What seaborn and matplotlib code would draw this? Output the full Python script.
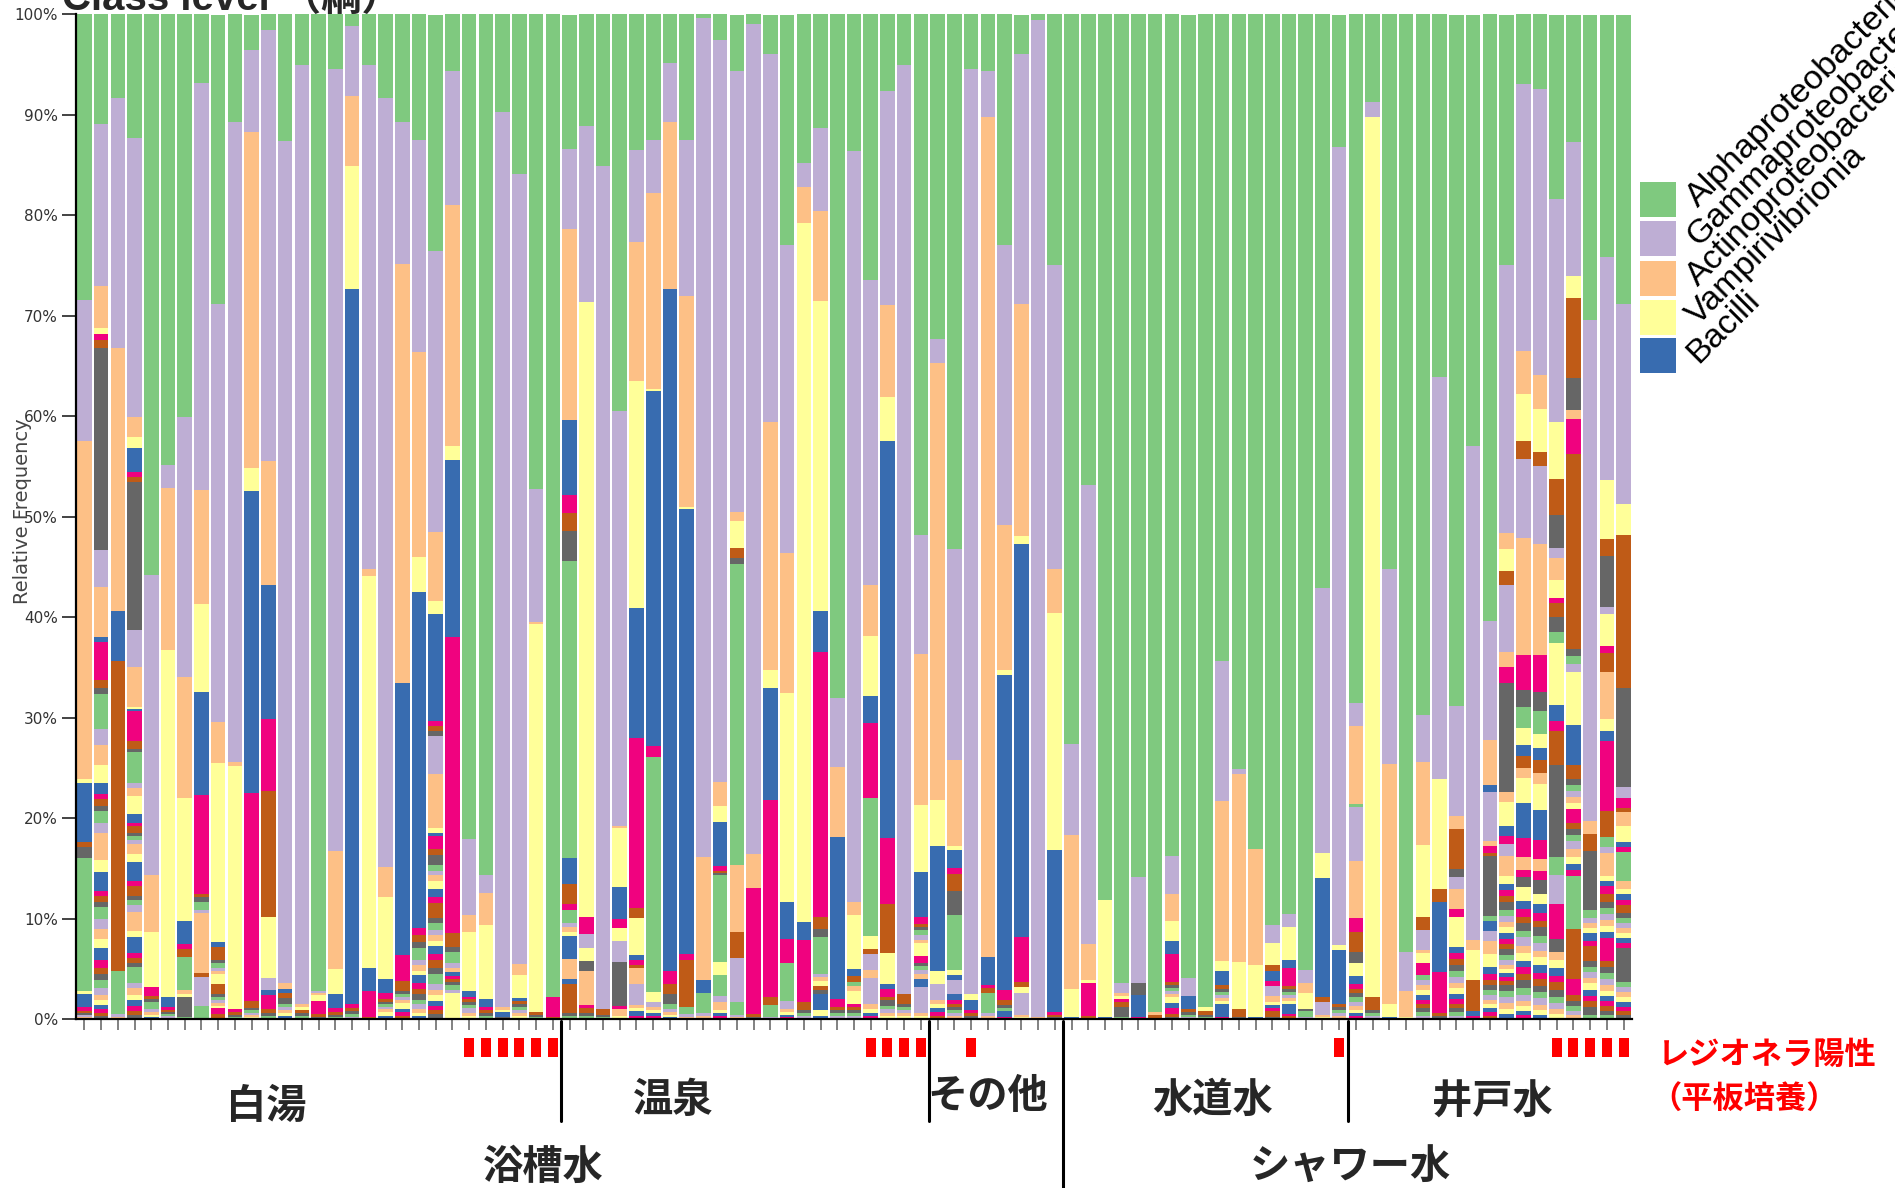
import numpy as np
import matplotlib
matplotlib.use("Agg")
import matplotlib.pyplot as plt
from matplotlib.patches import Rectangle
from matplotlib.lines import Line2D
from matplotlib import transforms
import seaborn as sns

# ---------------------------------------------------------------------------
# Data: relative abundance (%) of bacterial classes per sample.
# Each row is one sample, listed from the top of the bar downward.
# Entry k is drawn with Accent colour k % 8; the first five are the named
# classes, later entries are minor classes.
# ---------------------------------------------------------------------------
class_names = ["Alphaproteobacteria", "Gammaproteobacteria",
               "Actinoproteobacteria", "Vampirivibrionia", "Bacilli"]

shiroyu = [
    [28.4, 14.1, 33.6, 0.4, 5.9, 0, 0.5, 1.1, 13.2, 0, 0, 0.3, 1.3, 0.4, 0.2, 0.2, 0, 0.2, 0.2],
    [10.7, 15.9, 4.1, 0.6, 0, 0.6, 0.8, 19.8, 0, 3.6, 4.9, 0, 0.5, 3.8, 0.7, 0.6, 3.5, 1.5, 2.0, 1.8,
     1.0, 0.5, 0.7, 0.5, 1.2, 1.0, 2.6, 1.2, 1.8, 0.5, 0.6, 0.5, 1.2, 1.0, 1.0, 0.8, 1.2, 0.8, 0.6,
     0.6, 0.8, 0.6, 0.5, 0.5, 0.4, 0.4, 0.3, 0.3],
    [8.3, 24.9, 26.2, 0, 5.0, 0, 30.8, 0, 4.3, 0.3, 0.2],
    [12.1, 27.4, 2.0, 1.1, 2.4, 0.4, 0.5, 14.6, 0, 3.6, 3.9, 0.2, 0.2, 3.0, 0.8, 0.3, 3.0, 0.5, 0.8,
     1.8, 0.8, 0.3, 0.7, 0.3, 0.4, 0.4, 1.0, 0.8, 1.8, 0.5, 1.0, 0.4, 0.5, 0.7, 1.9, 0.5, 1.6, 0.5,
     0.5, 0.4, 1.6, 0.5, 0.6, 0.5, 0.6, 0.5, 0.4, 0.4],
    [55.6, 29.8, 5.7, 5.4, 0, 0.9, 0.3, 0.3, 0.7, 0.3, 0.3, 0.2, 0.2],
    [44.8, 2.3, 16.2, 34.5, 1.0, 0.3, 0.2, 0.2, 0.2, 0.3],
    [39.7, 25.6, 11.9, 12.1, 2.3, 0.5, 0.8, 0, 3.2, 0, 0.4, 0.3, 0, 0, 0, 2.0, 0.2],
    [6.8, 40.3, 11.2, 8.7, 10.2, 9.8, 0.3, 0.5, 0.8, 0.3, 5.9, 0, 0, 0, 0.4, 0, 0, 2.9, 0, 0, 0, 0,
     0, 0, 1.3],
    [28.8, 41.7, 4.1, 17.8, 0.5, 0, 1.3, 0.3, 0.5, 0.3, 0.3, 1.0, 0, 0, 1.0, 0.3, 0.3, 0.3, 0.3, 0.2,
     0, 0.6, 0.5],
    [10.7, 63.7, 0.4, 24.2, 0, 0.3, 0.3, 0.2, 0.2],
    [3.5, 8.2, 33.4, 2.3, 30.1, 20.7, 0.7, 0.2, 0.3, 0.2, 0.2, 0.2],
    [1.5, 42.8, 12.3, 0, 13.3, 7.2, 12.5, 0, 0, 0, 0, 6.0, 0, 0, 0, 0, 0, 1.2, 0, 0, 0.5, 1.4, 0.4,
     0.3, 0.3],
    [12.5, 83.2, 0.6, 0, 0.4, 0, 0.5, 0.6, 0.3, 0.3, 0.3, 0.3, 0.3],
    [5.0, 93.5, 0.3, 0.3, 0, 0, 0.3, 0.3, 0.3],
    [97.2, 0.2, 0.2, 0.6, 0, 1.3, 0.3, 0.2],
    [5.4, 77.8, 11.7, 2.5, 1.4, 0.4, 0.3, 0.2, 0.2],
    [1.1, 7.0, 7.0, 12.2, 71.2, 0.4, 0.3, 0.3, 0.3, 0.2],
    [5.0, 50.2, 0.7, 39.0, 2.3, 2.6, 0.2],
    [8.3, 76.1, 3.0, 8.1, 1.4, 0.6, 0.3, 0.2, 0.3, 0.2, 0.3, 0.4, 0.3],
    [10.7, 14.2, 41.9, 0, 27.1, 2.6, 1.0, 0.3, 0.3, 0.3, 0.3, 0.6, 0.3, 0.4, 0.3],
    [12.5, 21.1, 20.5, 3.4, 33.5, 0.7, 0.7, 0.6, 1.2, 0.5, 0.6, 0.4, 0.8, 0.6, 0.5, 0.6, 0.4, 0.5,
     0.4, 0.3, 0.3],
    [23.5, 28.0, 6.8, 1.3, 10.7, 0.5, 0.5, 0.5, 0, 3.7, 5.4, 0.5, 0.3, 1.3, 0.6, 1.0, 0.6, 0.4, 0.6,
     0.8, 0.8, 0.6, 1.5, 0.5, 0.6, 0.5, 0.6, 0.5, 0.8, 0.6, 0.8, 0.6, 1.0, 0.6, 0.5, 0.6, 0.5, 0.4,
     0.4, 0.5],
    [5.6, 13.4, 24.0, 1.4, 17.6, 29.5, 1.4, 0.5, 1.1, 0.5, 0.4, 0, 0.4, 0.3, 0.3, 0.3, 0.5, 0.3, 0,
     2.6],
    [82.1, 7.5, 1.7, 5.9, 0.6, 0.2, 0.3, 0.3, 0.3, 0.5, 0.3, 0.3],
    [85.7, 1.8, 3.1, 7.4, 0.8, 0.3, 0.3, 0.3, 0.3],
    [9.7, 89.1, 0.3, 0.2, 0.5, 0, 0, 0.2],
    [15.9, 78.5, 1.1, 2.3, 0.3, 0, 0.3, 0.3, 0.3, 0.3, 0.3, 0.3],
    [47.2, 13.3, 0.2, 38.6, 0, 0, 0.3, 0.2, 0.2],
    [97.8, 0, 0, 0, 0, 2.0, 0.2],
]

onsen = [
    [13.3, 7.9, 18.8, 0, 7.4, 1.8, 1.8, 2.9, 29.3, 0, 0, 0, 2.6, 0, 2.0, 0, 0, 0, 0, 0, 0, 0.5, 0, 0,
     1.3, 0.4, 0.5, 0.4, 2.3, 0, 0, 0, 0, 0, 2.0, 0, 0.4, 0, 2.9, 0.3, 0.3],
    [10.9, 17.3, 0, 60.3, 0, 1.7, 0, 0, 0, 1.3, 0, 1.3, 0, 0, 0, 1.0, 0, 0, 3.3, 0, 0, 0.3, 0.5, 0.3,
     0.3],
    [15.1, 83.9, 0, 0, 0, 0, 0.6, 0.2, 0.2],
    [39.2, 40.9, 0.2, 5.9, 3.1, 0.9, 0, 0, 0, 0, 0, 1.3, 0, 0, 0, 0, 0, 2.1, 0, 0, 0, 0, 0, 4.3, 0,
     0, 0, 0, 0, 0.3, 0, 0, 0, 0, 0.7, 0.3],
    [13.3, 9.0, 13.7, 22.3, 12.7, 16.7, 1.0, 0, 0, 0, 0, 3.6, 0.5, 0.5, 0.3, 0, 0, 0, 1.6, 0, 0, 0,
     0, 0, 0, 2.0, 0.3, 0.3, 0.5, 0.3],
    [12.5, 5.2, 19.5, 0.2, 35.3, 1.1, 0, 0, 23.3, 0, 0, 1.0, 0, 0, 0, 0, 0, 0.5, 0.3, 0.3, 0.3, 0.3],
    [4.8, 5.9, 16.6, 0, 67.9, 1.3, 1.0, 1.0, 0.5, 0.3, 0.3, 0.2, 0.2],
    [12.5, 15.5, 20.9, 0.2, 44.2, 0.6, 4.7, 0, 0.7, 0.3, 0.2],
    [0.3, 83.4, 12.2, 0, 1.3, 0, 0, 0, 2.0, 0.3, 0.3],
    [2.5, 73.3, 2.4, 1.5, 4.4, 0.5, 0.2, 0.2, 8.6, 0, 0, 1.3, 0, 0, 0, 0, 2.0, 0.6, 0.8, 0.3, 0.3,
     0.3],
    [5.6, 43.4, 0.9, 2.6, 0, 0, 1.0, 0.6, 29.6, 0, 6.6, 0, 0, 0, 2.6, 0, 0, 4.3, 0, 0, 0, 0, 0, 0,
     1.3, 0.2, 0.2],
    [0.9, 82.7, 3.4, 0, 0, 12.5, 0.3, 0.2],
    [3.9, 36.5, 24.7, 1.7, 11.2, 19.5, 0.8, 0, 1.2, 0.2],
    [22.9, 30.6, 13.9, 20.8, 3.7, 2.3, 0, 0, 3.8, 0.8, 0.3, 0.3, 0.2, 0.2],
    [14.8, 2.4, 3.6, 69.5, 1.8, 6.2, 0.8, 0.3, 0.3, 0.3],
    [11.3, 8.2, 8.9, 30.8, 4.1, 26.3, 1.2, 0.8, 3.6, 0.3, 0.4, 0.5, 0, 0, 0.4, 0.4, 0, 0, 0, 0, 1.6,
     0, 0, 0, 0, 0, 0, 0.6, 0.3],
    [68.0, 6.9, 7.0, 0, 16.1, 0.8, 0.3, 0.3, 0.3, 0.3],
    [13.6, 74.7, 1.3, 5.3, 0.7, 0, 0.6, 0, 0.4, 0, 0.5, 1.3, 0, 0.3, 0.3, 0.3, 0.3, 0.3],
    [26.1, 30.0, 5.0, 5.9, 2.6, 7.4, 0, 0, 13.5, 0, 0, 1.3, 0, 0, 0.5, 0, 0, 1.6, 0.8, 0, 0, 0, 0, 0,
     0, 2.5, 0.5, 0.4, 0.3, 0.3],
    [7.6, 21.2, 9.2, 4.3, 39.4, 6.6, 4.8, 0, 0, 0, 0, 3.1, 0.5, 0.8, 0.3, 0.6, 0.3, 0.4, 0.3, 0.3],
    [5.0, 92.5, 0, 0, 0, 0, 1.0, 0.3, 0.3, 0.3, 0.3, 0.3],
    [51.5, 11.8, 14.9, 6.7, 4.4, 0.7, 0.3, 0.3, 0.5, 0.5, 0.3, 1.3, 0, 0.7, 0, 0.3, 0.4, 0.3, 0.5, 0,
     0.8, 0, 0, 0, 0, 2.6, 0.3, 0.3],
]

sonota = [
    [32.3, 2.4, 43.5, 4.6, 12.4, 0, 0, 0, 0, 0, 0, 1.3, 0, 0, 0, 0, 0, 1.6, 0.4, 0.4, 0.4, 0.4, 0.3],
    [52.4, 20.7, 8.4, 0.4, 1.8, 0.6, 1.6, 2.4, 5.4, 0, 0, 0.5, 0.5, 0, 0, 0, 0, 1.3, 0, 0, 0.6, 0.4,
     0.3, 0.3, 0.3, 0.3, 0.3],
    [5.4, 92.1, 0, 0.6, 1.0, 0.3, 0.3, 0.3],
    [5.6, 4.6, 83.5, 0, 2.8, 0.3, 0.5, 0, 2.0, 0.3, 0.3],
    [22.9, 27.8, 14.4, 0.5, 31.3, 1.0, 0.5, 0.3, 0.3, 0, 0, 0, 0.6, 0.2],
    [3.9, 24.9, 23.0, 0.8, 39.1, 4.4, 0.5, 0, 0, 0, 0, 0.6, 0, 0, 0, 0, 0, 2.2, 0.2, 0.2],
    [0.5, 99.3, 0.2],
    [24.9, 30.3, 4.4, 23.6, 16.1, 0.3, 0.2, 0.2],
]

suidou = [
    [72.6, 9.1, 15.3, 2.8, 0.2],
    [46.7, 45.6, 3.6, 0.3, 0, 3.3, 0.3],
    [88.2, 0, 0, 11.6, 0.2],
    [96.5, 1.0, 0.3, 0.3, 0, 0.3, 0.5, 1.0, 0.2],
    [85.7, 10.5, 0, 0, 0, 0, 0, 1.2, 0, 0, 0, 0, 2.2, 0.2],
    [99.3, 0, 0.3, 0, 0, 0, 0.3, 0.1],
    [83.7, 3.8, 2.7, 1.9, 1.3, 2.8, 0.3, 0.3, 0.3, 0.3, 0.3, 0.6, 0.5, 0.6, 0.3, 0.2],
    [95.9, 1.8, 0, 0, 1.3, 0, 0.3, 0.3, 0.2, 0.2],
    [98.8, 0, 0, 0.4, 0, 0, 0.4, 0.2, 0.2],
    [64.6, 14.0, 16.0, 1.0, 1.4, 0, 0.4, 0.3, 0.3, 0.3, 0.3, 0.3, 1.3, 0.2],
    [75.1, 0.5, 18.7, 4.7, 0, 0, 0.8, 0.2],
    [83.1, 0, 11.5, 5.2, 0.2],
    [90.6, 1.8, 0, 2.2, 0, 0, 0.6, 0, 0, 0, 0, 0, 1.0, 0.5, 0, 0, 0, 1.0, 0.6, 0.3, 0.3, 0.3, 0.6,
     0.2],
    [89.8, 1.3, 0, 3.3, 0.8, 1.8, 0.3, 0.3, 0.3, 0.3, 0.3, 0.3, 1.0, 0.2, 0.3],
    [94.9, 1.3, 1.0, 1.6, 0, 0, 0, 0.2, 0.6, 0.2],
    [56.9, 26.3, 0, 2.5, 11.8, 0, 0.5, 0, 0, 1.3, 0.2, 0.2],
    [13.3, 80.1, 0, 0.5, 5.4, 0, 0.3, 0.3, 0.3, 0.3, 0.3],
]

ido = [
    [67.0, 2.3, 7.6, 0, 0, 0, 0, 0, 0.3, 5.2, 5.6, 0, 0, 1.3, 2.0, 1.0, 0, 0, 0, 1.3, 0.8, 0.5, 0.4,
     0.4, 0.4, 0.4, 0.4, 0.3, 0.3, 0.3],
    [8.7, 1.5, 0, 87.6, 0, 0, 1.3, 0.3, 0.3, 0.3],
    [55.2, 19.4, 23.9, 1.3, 0.2],
    [93.3, 3.9, 2.6, 0.2],
    [70.0, 4.7, 8.3, 7.2, 0, 0, 1.3, 0, 0, 2.0, 0.3, 1.0, 0, 1.2, 0, 0, 0.5, 0.5, 0.5, 0.5, 0.5, 0.4,
     0.4, 0.4, 0.4, 0.3],
    [35.8, 39.8, 0, 10.8, 0, 0, 1.3, 0, 0, 0, 0, 0, 7.0, 4.0, 0.3, 0.3],
    [68.0, 10.8, 1.3, 0, 0, 0, 3.9, 0.8, 0, 1.2, 2.0, 0, 0, 0.8, 0, 0, 0, 0, 0, 2.9, 0.6, 0.6, 0.6,
     0.6, 0.6, 0.6, 0.5, 0.5, 0.5, 0.5, 0.4, 0.4, 0.4, 0.3],
    [42.8, 49.1, 1.0, 2.9, 0, 0, 3.1, 0, 0, 0, 0, 0, 0.5, 0.3],
    [60.0, 11.8, 4.4, 0, 0.7, 0, 0, 0, 0, 4.9, 0.5, 0, 0, 0.7, 0.3, 5.9, 0.5, 0, 0, 0, 1.0, 0, 0, 0,
     0, 1.0, 1.3, 1.3, 0.6, 0.6, 0.5, 0.5, 0.5, 0.5, 0.4, 0.4, 0.4, 0.4, 0.3],
    [24.9, 26.6, 1.6, 2.1, 0, 0, 1.4, 0, 0, 6.7, 1.5, 0, 0, 1.6, 0, 10.8, 0, 0, 1.0, 2.3, 1.0, 0.8,
     0, 0, 0, 1.2, 2.0, 0.8, 0.6, 0.6, 0.6, 0.8, 0.6, 0.6, 0.5, 0.6, 0.6, 0.5, 0.5, 0.5, 0.5, 0.5,
     0.4, 0.4, 0.4, 0.4, 0.4, 0.6, 0.6, 0.6, 0.6, 0.5, 0.5],
    [6.8, 26.2, 4.2, 4.6, 0, 0, 1.8, 0, 0, 7.7, 11.5, 0, 0, 3.4, 0, 1.7, 2.1, 0, 0, 1.6, 1.1, 0, 1.2,
     0, 0, 0, 1.0, 2.4, 3.5, 1.8, 0, 0, 0, 0, 1.3, 0, 0, 0.7, 0, 1.0, 0, 0, 0, 1.3, 0.8, 0.8, 0.6,
     0.8, 0.6, 0.8, 0.7, 0.8, 0.6, 0.7, 0.6, 0.8, 0.6, 0.6, 0.5, 0.5, 0.4, 0.4],
    [7.2, 27.9, 3.3, 4.2, 0, 0, 1.3, 0, 0, 7.6, 10.8, 0, 0, 3.6, 0, 1.8, 2.3, 0, 0, 1.3, 1.2, 0, 1.3,
     0, 0, 0, 1.0, 2.6, 2.9, 1.8, 0, 0, 0, 0, 1.2, 0, 0, 0.9, 0, 1.3, 0, 0, 0, 1.0, 0.9, 0.8, 0.6,
     0.8, 0.7, 0.8, 0.6, 0.7, 0.8, 0.6, 0.7, 0.6, 0.6, 0.6, 0.5, 0.5, 0.4],
    [18.1, 21.9, 0, 5.6, 0, 0, 3.5, 3.3, 0, 0.9, 2.2, 1.8, 0, 0.5, 1.3, 1.5, 1.1, 0, 0, 6.1, 1.5, 1.0,
     3.4, 9.0, 1.8, 2.8, 0, 0, 0, 1.1, 0, 0, 0, 0, 0, 0, 0, 2.3, 0, 1.3, 0, 0, 0.8, 0.8, 0.8, 0.6,
     0.8, 0.6, 0.6, 0.6, 0.5, 0.5],
    [12.5, 13.1, 0, 2.1, 0, 0, 7.8, 3.2, 0, 0, 0.8, 0, 0, 3.5, 19.0, 0.7, 0.8, 0.8, 0, 5.2, 3.9, 0,
     1.3, 0.6, 0.6, 0.6, 0.6, 0.6, 0, 1.3, 0.6, 0.6, 0.6, 0.8, 0.8, 0.6, 0.6, 0.6, 0, 0, 5.2, 0, 0,
     0, 0, 0, 4.9, 0, 0, 0, 0, 0, 0, 1.6, 0.5, 0.5, 0.5, 0.4, 0.4],
    [30.1, 49.4, 1.3, 0, 0, 0, 1.6, 5.9, 0.7, 0.5, 0.5, 0.5, 0.8, 0.5, 1.5, 0.6, 0.5, 0.6, 0.5, 0.6,
     0.6, 0.5, 0.6, 0.8, 0.4],
    [24.2, 22.3, 0, 5.9, 0, 0, 1.7, 5.1, 0, 0.7, 0, 3.2, 0, 0.7, 1.9, 0, 0, 0, 4.6, 1.2, 1.0, 7.0,
     2.6, 0, 1.0, 0.6, 2.3, 0.5, 0.5, 0.8, 0.8, 0.6, 0.6, 0.6, 0.6, 0.6, 0.6, 2.3, 0.6, 0.6, 0.6,
     0.6, 0.6, 0.5, 0.5, 0.5, 0.5, 0.4, 0.4],
    [28.6, 19.8, 0, 3.1, 0, 0, 15.1, 9.8, 0, 1.1, 0, 0, 0, 1.0, 0.4, 0, 0, 0, 1.4, 1.6, 0.5, 0.5, 0,
     0, 2.8, 0, 0.8, 0.5, 0.6, 0.5, 0.8, 0.5, 0.5, 0.5, 0.5, 0.5, 0.5, 0.5, 0, 3.3, 0.5, 0.5, 0.5,
     0.5, 0.5, 0.4, 0.4, 0.4],
]

group_names = ["白湯", "温泉", "その他", "水道水", "井戸水"]
group_rows = [shiroyu, onsen, sonota, suidou, ido]

# samples (1-based) positive for Legionella by plate culture
legionella_positive = [24, 25, 26, 27, 28, 29, 48, 49, 50, 51, 54, 76, 89, 90, 91, 92, 93]

# ---------------------------------------------------------------------------
# Build the stacked table
# ---------------------------------------------------------------------------
rows = [r for g in group_rows for r in g]
n_bars = len(rows)
n_cls = max(len(r) for r in rows)
mat = np.zeros((n_bars, n_cls))
for i, r in enumerate(rows):
    mat[i, :len(r)] = r
mat = mat / mat.sum(axis=1, keepdims=True) * 100.0
samples = [f"S{i + 1:02d}" for i in range(n_bars)]
# upper edge of each class segment (class 0 sits on top of everything)
tops = np.cumsum(mat[:, ::-1], axis=1)[:, ::-1]

sizes = [len(g) for g in group_rows]
bounds = np.cumsum(sizes)[:-1] - 0.5

palette = sns.color_palette("Accent", 8)

# ---------------------------------------------------------------------------
# Figure
# ---------------------------------------------------------------------------
sns.set_theme(style="white")
plt.rcParams["font.family"] = ["DejaVu Sans", "Noto Sans CJK JP"]

W, H = 1895, 1188
fig = plt.figure(figsize=(W / 100, H / 100), dpi=100)
ax = fig.add_axes([76 / W, 1 - 1019 / H, (1632 - 76) / W, (1019 - 14.5) / H])

for k in range(n_cls):
    sns.barplot(x=samples, y=tops[:, k], order=samples, color=palette[k % 8],
                width=0.87, saturation=1, errorbar=None, linewidth=0, ax=ax)

ax.set_xlim(-0.5, n_bars - 0.5)
ax.set_ylim(0, 100)
ax.set_xlabel("")
ax.set_ylabel("")
ax.set_xticks(range(n_bars))
ax.set_xticklabels([])
ax.set_yticks(range(0, 101, 10))
ax.set_yticklabels([f"{v}%" for v in range(0, 101, 10)])
ax.tick_params(axis="y", left=True, length=10, width=1.2, color="#222222",
               labelsize=11, labelcolor="#333333", pad=3)
ax.tick_params(axis="x", bottom=True, length=8, width=1.3, color="#777777",
               labelbottom=False)
sns.despine(ax=ax)
for s in ("left", "bottom"):
    ax.spines[s].set_color("black")
    ax.spines[s].set_linewidth(1.6)

fig.text(23 / W, 1 - 511 / H, "Relative Frequency", rotation=90, ha="center",
         va="center", fontsize=14, color="#444444")

# title, partly above the canvas
fig.text(62 / W, 1 - 10 / H, "Class level （綱）", fontsize=29, fontweight="bold",
         family=["Liberation Sans", "Noto Sans CJK JP"], va="baseline", ha="left")

# legend: colour boxes with diagonal labels
fig.add_artist(Rectangle((1631 / W, 1 - 371 / H), 49 / W, 198 / H,
                         transform=fig.transFigure, facecolor="white", edgecolor="none"))
centers = [199, 238, 278, 317, 355]
for k, (name, cy) in enumerate(zip(class_names, centers)):
    fig.add_artist(Rectangle((1640 / W, 1 - (cy + 17.5) / H), 36 / W, 35 / H,
                             transform=fig.transFigure, facecolor=palette[k],
                             edgecolor="none"))
    fig.text(1698 / W, 1 - (cy + 9) / H, name, rotation=45, rotation_mode="anchor",
             ha="left", va="baseline", fontsize=24.5, family=["Liberation Sans"],
             color="black")

# group separators and Legionella markers below the axis
bt = transforms.blended_transform_factory(ax.transData, fig.transFigure)
y_top = 1 - 1021 / H
y_short = 1 - 1121 / H
for j, b in enumerate(bounds):
    y_end = 0.0 if j == 2 else y_short
    fig.add_artist(Line2D([b, b], [y_top, y_end], transform=bt, color="black", lw=2.2))

for s in legionella_positive:
    fig.add_artist(Rectangle((s - 1 - 0.3, 1 - 1057 / H), 0.6, 19 / H, transform=bt,
                             facecolor="#ff0000", edgecolor="none"))

jp = ["Noto Sans CJK JP"]
label_pos = {"白湯": (266, 1106), "温泉": (673, 1100), "その他": (988, 1096),
             "水道水": (1213, 1100), "井戸水": (1492, 1102)}
for name in group_names:
    x, y = label_pos[name]
    fig.text(x / W, 1 - y / H, name, ha="center", va="center", fontsize=29,
             fontweight="bold", family=jp)
fig.text(543 / W, 1 - 1167 / H, "浴槽水", ha="center", va="center", fontsize=29,
         fontweight="bold", family=jp)
fig.text(1350 / W, 1 - 1167 / H, "シャワー水", ha="center", va="center", fontsize=29,
         fontweight="bold", family=jp)
fig.text(1658 / W, 1 - 1055 / H, "レジオネラ陽性", ha="left", va="center", fontsize=22.5,
         fontweight="bold", family=jp, color="#ff0000")
fig.text(1650 / W, 1 - 1100 / H, "（平板培養）", ha="left", va="center", fontsize=22.5,
         fontweight="bold", family=jp, color="#ff0000")

fig.savefig("out.png", dpi=100)
